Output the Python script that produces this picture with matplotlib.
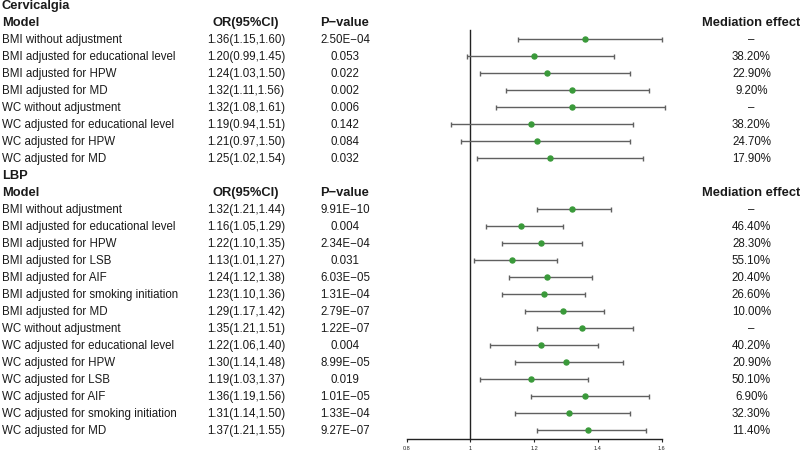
import matplotlib
matplotlib.use("Agg")
import matplotlib.pyplot as plt
from matplotlib.transforms import blended_transform_factory

plt.rcParams['font.family'] = ['Liberation Sans', 'DejaVu Sans']

# ---------------- data ----------------
cerv_models = ["BMI without adjustment", "BMI adjusted for educational level",
               "BMI adjusted for HPW", "BMI adjusted for MD",
               "WC without adjustment", "WC adjusted for educational level",
               "WC adjusted for HPW", "WC adjusted for MD"]
cerv_or = [1.36, 1.20, 1.24, 1.32, 1.32, 1.19, 1.21, 1.25]
cerv_lo = [1.15, 0.99, 1.03, 1.11, 1.08, 0.94, 0.97, 1.02]
cerv_hi = [1.60, 1.45, 1.50, 1.56, 1.61, 1.51, 1.50, 1.54]
cerv_p = ["2.50E\u221204", "0.053", "0.022", "0.002", "0.006", "0.142", "0.084", "0.032"]
cerv_med = ["\u2013", "38.20%", "22.90%", "9.20%", "\u2013", "38.20%", "24.70%", "17.90%"]

lbp_models = ["BMI without adjustment", "BMI adjusted for educational level",
              "BMI adjusted for HPW", "BMI adjusted for LSB", "BMI adjusted for AIF",
              "BMI adjusted for smoking initiation", "BMI adjusted for MD",
              "WC without adjustment", "WC adjusted for educational level",
              "WC adjusted for HPW", "WC adjusted for LSB", "WC adjusted for AIF",
              "WC adjusted for smoking initiation", "WC adjusted for MD"]
lbp_or = [1.32, 1.16, 1.22, 1.13, 1.24, 1.23, 1.29, 1.35, 1.22, 1.30, 1.19, 1.36, 1.31, 1.37]
lbp_lo = [1.21, 1.05, 1.10, 1.01, 1.12, 1.10, 1.17, 1.21, 1.06, 1.14, 1.03, 1.19, 1.14, 1.21]
lbp_hi = [1.44, 1.29, 1.35, 1.27, 1.38, 1.36, 1.42, 1.51, 1.40, 1.48, 1.37, 1.56, 1.50, 1.55]
lbp_p = ["9.91E\u221210", "0.004", "2.34E\u221204", "0.031", "6.03E\u221205", "1.31E\u221204",
         "2.79E\u221207", "1.22E\u221207", "0.004", "8.99E\u221205", "0.019", "1.01E\u221205",
         "1.33E\u221204", "9.27E\u221207"]
lbp_med = ["\u2013", "46.40%", "28.30%", "55.10%", "20.40%", "26.60%", "10.00%",
           "\u2013", "40.20%", "20.90%", "50.10%", "6.90%", "32.30%", "11.40%"]

sections = [("Cervicalgia", cerv_models, cerv_or, cerv_lo, cerv_hi, cerv_p, cerv_med),
            ("LBP", lbp_models, lbp_or, lbp_lo, lbp_hi, lbp_p, lbp_med)]
xticks = [0.8, 1.0, 1.2, 1.4, 1.6]
xticklabels = ["0.8", "1", "1.2", "1.4", "1.6"]

# ---------------- figure ----------------
W, H = 800, 452
fig = plt.figure(figsize=(8, 4.52), dpi=100)
ax_left, ax_right = 406.7, 661.7
ax_bottom_px = 440
ax = fig.add_axes([ax_left / W, (H - ax_bottom_px) / H, (ax_right - ax_left) / W, ax_bottom_px / H])

row0_px, row_h = 5.7, 17.0
y_top = (0 - row0_px) / row_h
y_bot = (ax_bottom_px - row0_px) / row_h
ax.set_xlim(0.8, 1.6)
ax.set_ylim(y_bot, y_top)

tr = blended_transform_factory(fig.transFigure, ax.transData)
x_model, x_or, x_p, x_med = 2 / W, 246 / W, 345 / W, 751.5 / W
body_fs, head_fs = 8.3, 9.3

green = "#3a9a3a"
gray = "#606060"
txt = "#1a1a1a"

r = 0
for title, models, ors, los, his, ps, meds in sections:
    ax.text(x_model, r, title, transform=tr, fontsize=head_fs, fontweight='bold',
            ha='left', va='center', clip_on=False, color=txt)
    r += 1
    ax.text(x_model, r, "Model", transform=tr, fontsize=head_fs, fontweight='bold',
            ha='left', va='center', clip_on=False, color=txt)
    ax.text(x_or, r, "OR(95%CI)", transform=tr, fontsize=head_fs, fontweight='bold',
            ha='center', va='center', clip_on=False, color=txt)
    ax.text(x_p, r, "P\u2212value", transform=tr, fontsize=head_fs, fontweight='bold',
            ha='center', va='center', clip_on=False, color=txt)
    ax.text(x_med, r, "Mediation effect", transform=tr, fontsize=head_fs, fontweight='bold',
            ha='center', va='center', clip_on=False, color=txt)
    r += 1
    ys = list(range(r, r + len(models)))
    for y, m, o, lo, hi, p, md in zip(ys, models, ors, los, his, ps, meds):
        ax.text(x_model, y, m, transform=tr, fontsize=body_fs, ha='left', va='center',
                clip_on=False, color=txt)
        ax.text(x_or, y, f"{o:.2f}({lo:.2f},{hi:.2f})", transform=tr, fontsize=body_fs,
                ha='center', va='center', clip_on=False, color=txt)
        ax.text(x_p, y, p, transform=tr, fontsize=body_fs, ha='center', va='center',
                clip_on=False, color=txt)
        ax.text(x_med, y, md, transform=tr, fontsize=body_fs, ha='center', va='center',
                clip_on=False, color=txt)
    xerr = [[o - lo for o, lo in zip(ors, los)], [hi - o for o, hi in zip(ors, his)]]
    ax.errorbar(ors, ys, xerr=xerr, fmt='none', ecolor=gray, elinewidth=1.0,
                capsize=1.8, capthick=1.0, clip_on=False, zorder=2)
    ax.plot(ors, ys, 'o', color=green, markersize=3.6, zorder=3, clip_on=False)
    r += len(models)

# vertical reference line at OR = 1
ax.plot([1, 1], [1.5, y_bot], color='#222222', lw=1.0, clip_on=False, zorder=1)

for s in ['top', 'right', 'left']:
    ax.spines[s].set_visible(False)
ax.spines['bottom'].set_color('#222222')
ax.spines['bottom'].set_linewidth(1.0)
ax.set_yticks([])
ax.set_xticks(xticks)
ax.set_xticklabels(xticklabels)
ax.tick_params(axis='x', length=2.5, width=0.8, labelsize=4, pad=2, colors='#222222')
ax.patch.set_visible(False)

fig.savefig("out.png", dpi=100)
